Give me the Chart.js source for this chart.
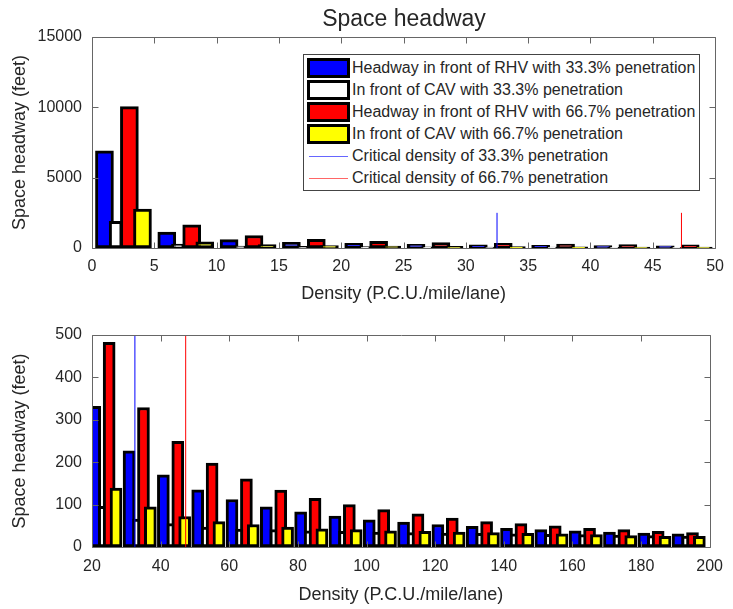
<!DOCTYPE html>
<html>
<head>
<meta charset="utf-8">
<script src="https://cdn.jsdelivr.net/npm/chart.js@4.4.0/dist/chart.umd.min.js"></script>
<style>
  html, body { margin: 0; padding: 0; background: #fff; }
  body { width: 733px; height: 609px; position: relative; overflow: hidden;
         font-family: "Liberation Sans", Arial, sans-serif; color: #262626; }
  #topWrap { position: absolute; left: 0; top: 0; width: 733px; height: 305px; }
  #botWrap { position: absolute; left: 0; top: 305px; width: 733px; height: 304px; }
  #title { position: absolute; left: 92px; width: 624px; top: 5px; line-height: 26px;
           text-align: center; font-size: 23px; }
  #legend { position: absolute; left: 303px; top: 54px; width: 395px; height: 135px;
            border: 1px solid #444; background: #fff; }
  #legend .sw { position: absolute; left: 3px; width: 43px; height: 20px; box-sizing: border-box;
                border: 3px solid #000; }
  #legend .ln { position: absolute; left: 5px; width: 39px; height: 1px; }
  #legend .tx { position: absolute; left: 48px; font-size: 16px; line-height: 20px; white-space: nowrap; }
</style>
</head>
<body>
<div id="topWrap"><canvas id="topChart" width="733" height="305"></canvas></div>
<div id="botWrap"><canvas id="botChart" width="733" height="304"></canvas></div>
<div id="title">Space headway</div>
<div id="legend"></div>

<script>
// series names (legend order)
const seriesLabels = [
  "Headway in front of RHV with 33.3% penetration",
  "In front of CAV with 33.3% penetration",
  "Headway in front of RHV with 66.7% penetration",
  "In front of CAV with 66.7% penetration"
];
const critLabels = [
  "Critical density of 33.3% penetration",
  "Critical density of 66.7% penetration"
];

// top panel, density 0-50
const topDensityRHV33 = [1, 6, 11, 16, 21, 26, 31, 36, 41, 46];
const topDensityCAV33 = [1.9, 6.9, 11.9, 16.9, 21.9, 26.9, 31.9, 36.9, 41.9, 46.9];
const topDensityRHV67 = [3, 8, 13, 18, 23, 28, 33, 38, 43, 48];
const topDensityCAV67 = [4.05, 9.05, 14.05, 19.05, 24.05, 29.05, 34.05, 39.05, 44.05, 49.05];
const topRHV33 = [6900, 1130, 600, 410, 332, 265, 227, 195, 170, 150];
const topCAV33 = [1900, 270, 130, 110, 96, 78, 66, 60, 55, 51];
const topRHV67 = [10050, 1640, 890, 620, 483, 385, 329, 282, 249, 220];
const topCAV67 = [2770, 440, 250, 170, 139, 112, 95, 82, 72, 65];

// bottom panel, density 20-200
const botDensityRHV33 = [20.8, 30.8, 40.8, 50.8, 60.8, 70.8, 80.8, 90.8, 100.8, 110.8, 120.8, 130.8, 140.8, 150.8, 160.8, 170.8, 180.8, 190.8];
const botDensityCAV33 = [23, 33, 43, 53, 63, 73, 83, 93, 103, 113, 123, 133, 143, 153, 163, 173, 183, 193];
const botDensityRHV67 = [25, 35, 45, 55, 65, 75, 85, 95, 105, 115, 125, 135, 145, 155, 165, 175, 185, 195];
const botDensityCAV67 = [27, 37, 47, 57, 67, 77, 87, 97, 107, 117, 127, 137, 147, 157, 167, 177, 187, 197];
const botRHV33 = [332, 227, 170, 135, 112, 95, 83, 73, 64, 59, 53, 49, 44, 41, 38, 35, 33, 31];
const botCAV33 = [96, 66, 55, 47, 42, 41, 38, 37, 35, 34, 33, 32, 31, 30, 29, 28, 27, 26];
const botRHV67 = [483, 329, 249, 198, 161, 134, 115, 100, 88, 78, 68, 60, 55, 50, 44, 41, 37, 34];
const botCAV67 = [139, 95, 72, 60, 53, 47, 43, 41, 38, 37, 35, 34, 32, 31, 29, 27, 25, 25];

// critical densities (vertical markers) and marker height
const critDensity = [32.5, 47.3];
const critTop = 2500;

const xTitle = "Density (P.C.U./mile/lane)";
const yTitle = "Space headway (feet)";

const barColors = ["#0000ff", "#ffffff", "#ff0000", "#ffff00"];
const critColors = ["#0000ff", "#ff0000"];
const textColor = "#262626";
const tickFont = { family: "Liberation Sans, Arial, sans-serif", size: 16 };
const labelFont = { family: "Liberation Sans, Arial, sans-serif", size: 18 };

function points(xs, ys) {
  return xs.map((x, i) => ({ x: x, y: ys[i] }));
}

function barSet(i, xs, ys, thickness, order) {
  return {
    type: "bar",
    label: seriesLabels[i],
    data: points(xs, ys),
    backgroundColor: barColors[i],
    borderColor: "#000",
    borderWidth: 3,
    borderSkipped: false,
    barThickness: thickness,
    grouped: false,
    order: order
  };
}

function critSet(i) {
  return {
    type: "line",
    label: critLabels[i],
    data: [{ x: critDensity[i], y: 0 }, { x: critDensity[i], y: critTop }],
    borderColor: critColors[i],
    borderWidth: 1,
    pointRadius: 0,
    order: 0
  };
}

// MATLAB-like box with inward ticks on all four sides
const boxAxes = {
  id: "boxAxes",
  afterDraw(chart) {
    const { ctx, chartArea: a, scales } = chart;
    const L = Math.round(a.left) + 0.5, R = Math.round(a.right) + 0.5;
    const T = Math.round(a.top) + 0.5, B = Math.round(a.bottom) + 0.5;
    const len = 6;
    ctx.save();
    ctx.strokeStyle = "#666";
    ctx.lineWidth = 1;
    ctx.beginPath();
    ctx.rect(L, T, R - L, B - T);
    scales.x.ticks.forEach(t => {
      const px = Math.round(scales.x.getPixelForValue(t.value)) + 0.5;
      ctx.moveTo(px, B); ctx.lineTo(px, B - len);
      ctx.moveTo(px, T); ctx.lineTo(px, T + len);
    });
    scales.y.ticks.forEach(t => {
      const py = Math.round(scales.y.getPixelForValue(t.value)) + 0.5;
      ctx.moveTo(L, py); ctx.lineTo(L + len, py);
      ctx.moveTo(R, py); ctx.lineTo(R - len, py);
    });
    ctx.stroke();
    ctx.restore();
  }
};

function makeScales(xMin, xMax, xStep, yMax, yStep, xHeight, xPad, titlePad) {
  return {
    x: {
      type: "linear", min: xMin, max: xMax, offset: false,
      ticks: { stepSize: xStep, font: tickFont, color: textColor, padding: xPad,
               maxRotation: 0, autoSkip: false, callback: v => String(v) },
      grid: { display: false, drawTicks: false },
      border: { display: false },
      title: { display: true, text: xTitle, font: labelFont, color: textColor,
               padding: { top: 0, bottom: titlePad } },
      afterFit: s => { s.height = xHeight; }
    },
    y: {
      min: 0, max: yMax,
      ticks: { stepSize: yStep, font: tickFont, color: textColor, padding: 10,
               callback: v => String(v) },
      grid: { display: false, drawTicks: false },
      border: { display: false },
      title: { display: true, text: yTitle, font: labelFont, color: textColor,
               padding: { top: 9, bottom: 0 } },
      afterFit: s => { s.width = 92; }
    }
  };
}

function makeChart(id, datasets, scales, padTop) {
  return new Chart(document.getElementById(id), {
    type: "bar",
    data: { datasets: datasets },
    options: {
      responsive: false,
      animation: false,
      layout: { padding: { left: 0, right: 17, top: padTop, bottom: 0 } },
      plugins: { legend: { display: false }, tooltip: { enabled: false } },
      scales: scales
    },
    plugins: [boxAxes]
  });
}

// draw order: blue first, then white, red, yellow on top
makeChart("topChart", [
  barSet(0, topDensityRHV33, topRHV33, 18, 4),
  barSet(1, topDensityCAV33, topCAV33, 13, 3),
  barSet(2, topDensityRHV67, topRHV67, 18, 2),
  barSet(3, topDensityCAV67, topCAV67, 18, 1),
  critSet(0),
  critSet(1)
], makeScales(0, 50, 5, 15000, 5000, 57, 9, 0), 37);

makeChart("botChart", [
  barSet(0, botDensityRHV33, botRHV33, 12, 4),
  barSet(1, botDensityCAV33, botCAV33, 8, 3),
  barSet(2, botDensityRHV67, botRHV67, 12, 2),
  barSet(3, botDensityCAV67, botCAV67, 12, 1),
  critSet(0),
  critSet(1)
], makeScales(20, 200, 20, 500, 100, 62, 10, 3), 30);

// legend box (inside top panel)
const legend = document.getElementById("legend");
const rowStep = 21.9, firstRow = 13.3;
seriesLabels.concat(critLabels).forEach((label, i) => {
  const cy = firstRow + rowStep * i;
  if (i < seriesLabels.length) {
    const sw = document.createElement("div");
    sw.className = "sw";
    sw.style.top = (cy - 10) + "px";
    sw.style.background = barColors[i];
    legend.appendChild(sw);
  } else {
    const ln = document.createElement("div");
    ln.className = "ln";
    ln.style.top = Math.round(cy) + "px";
    ln.style.background = critColors[i - seriesLabels.length];
    ln.style.opacity = 0.6;
    legend.appendChild(ln);
  }
  const tx = document.createElement("div");
  tx.className = "tx";
  tx.style.top = (cy - 10) + "px";
  tx.textContent = label;
  legend.appendChild(tx);
});
</script>
</body>
</html>
